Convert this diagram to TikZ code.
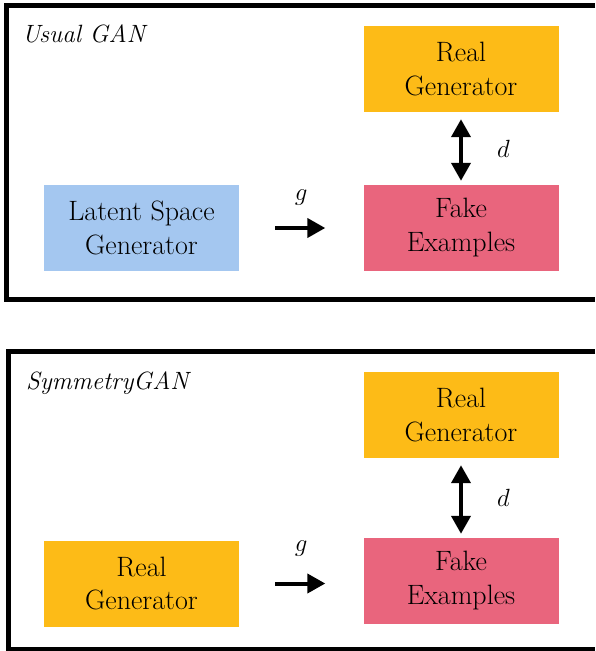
\documentclass[tikz,border=0pt]{standalone}
\usetikzlibrary{arrows.meta}
\definecolor{latentblue}{RGB}{164,199,240}
\definecolor{realorange}{RGB}{253,187,23}
\definecolor{fakepink}{RGB}{233,101,125}
\tikzset{
  frame/.style={line width=5pt},
  box/.style={minimum width=195pt, minimum height=86pt, inner sep=0pt, align=center,
    font=\fontsize{28}{34}\selectfont},
  title/.style={anchor=base west, inner sep=0pt, font=\fontsize{25}{30}\selectfont\itshape},
  link/.style={line width=4pt, -{Triangle[length=18pt,width=19pt]}},
  dlink/.style={line width=4pt, {Triangle[length=18pt,width=19pt]}-{Triangle[length=18pt,width=19pt]}},
  lbl/.style={inner sep=0pt, font=\fontsize{26}{30}\selectfont}
}
\begin{document}
\begin{tikzpicture}[x=1pt,y=-1pt]
  \useasboundingbox (0,0) rectangle (595,651);
  \draw[frame] (595,5.5) -| (6,299) -- (595,299);
  \draw[frame] (595,351) -| (8,649) -- (595,649);
  \draw
    (22,42) node[title] (usual) {Usual GAN}
    (141.5,228) node[box, fill=latentblue] (latent) {Latent Space\\Generator}
    (461,69) node[box, fill=realorange] (real1) {Real\\Generator}
    (461,228) node[box, fill=fakepink] (fake1) {Fake\\Examples}
    (26,389) node[title] (symm) {SymmetryGAN}
    (141.5,583.5) node[box, fill=realorange] (real2) {Real\\Generator}
    (461,415) node[box, fill=realorange] (real3) {Real\\Generator}
    (461,581) node[box, fill=fakepink] (fake2) {Fake\\Examples};
  \begin{scope}[shorten <=36pt, shorten >=38pt]
    \draw[link] (latent.east) -- node[lbl, above=21pt] (g1) {$g$} (latent.east -| fake1.west);
    \draw[link] (real2.east) -- node[lbl, above=25pt] (g2) {$g$} (real2.east -| fake2.west);
  \end{scope}
  \begin{scope}[shorten <=7pt, shorten >=4pt]
    \draw[dlink] (real1) -- node[lbl, right=34pt] (d1) {$d$} (fake1);
    \draw[dlink] (real3) -- node[lbl, right=34pt] (d2) {$d$} (fake2);
  \end{scope}
\end{tikzpicture}
\end{document}
